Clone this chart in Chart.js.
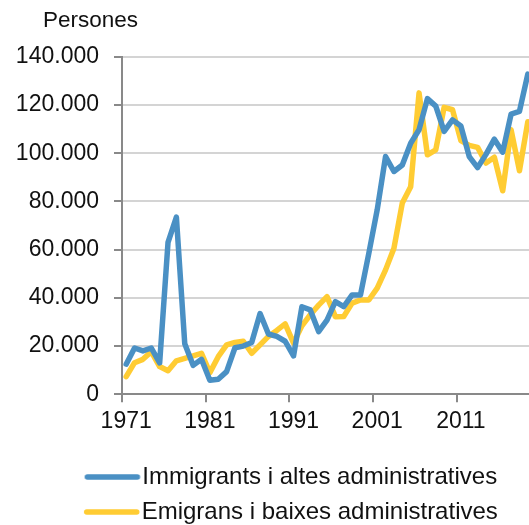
<!DOCTYPE html>
<html>
<head>
<meta charset="utf-8">
<script src="https://cdn.jsdelivr.net/npm/chart.js@4.4.1/dist/chart.umd.min.js"></script>
<style>
  html, body { margin: 0; padding: 0; background: #fff; overflow: hidden; }
  #wrap { width: 529px; height: 525px; overflow: hidden; }
  canvas { display: block; }
</style>
</head>
<body>
<div id="wrap"><canvas id="chart" width="534" height="534"></canvas></div>
<script>
// Years 1971 - 2019
const years = [];
for (let y = 1971; y <= 2019; y++) years.push(String(y));

// Immigrants i altes administratives (persones)
const immigrants = [
  12500, 19200, 18000, 19200, 13000, 63000, 73500, 21000, 12000, 14500,
  5800, 6200, 9400, 19300, 20000, 21500, 33500, 25000, 24000, 22000,
  15900, 36300, 35000, 26000, 30800, 38400, 36400, 41200, 41200, 58500,
  76500, 98600, 92400, 95100, 104100, 109700, 122600, 119500, 109000, 113800,
  111300, 98600, 94000, 99500, 105800, 100400, 116200, 117300, 132800
];

// Emigrans i baixes administratives (persones)
const emigrants = [
  7300, 13100, 14500, 17700, 11500, 9800, 13900, 14900, 15900, 17000,
  9000, 15600, 20500, 21500, 22000, 17000, 20500, 24000, 26500, 29200,
  21200, 28400, 33000, 37000, 40500, 32200, 32300, 37800, 39100, 39100,
  44000, 51600, 60600, 79300, 86100, 125000, 99300, 101400, 119000, 118000,
  105200, 103200, 102400, 95900, 98300, 84400, 109700, 92700, 113000
];

const unitLabel = 'Persones';

const BLUE = '#4a90c4';
const YELLOW = '#ffcc33';
const AXIS = '#898989';
const GRID = '#d4d4d4';
const FONT = 'Liberation Sans, Arial, sans-serif';

// legend swatch: a short thick line drawn into a small canvas
function swatch(color) {
  const c = document.createElement('canvas');
  c.width = 120; c.height = 8;
  const g = c.getContext('2d');
  g.strokeStyle = color;
  g.lineWidth = 5.5;
  g.lineCap = 'round';
  g.beginPath();
  g.moveTo(64.75, 4);
  g.lineTo(114.75, 4);
  g.stroke();
  return c;
}

// unit label above the y axis, left aligned like the original
const unitTitle = {
  id: 'unitTitle',
  afterDraw(chart) {
    const ctx = chart.ctx;
    ctx.save();
    ctx.font = '22.5px ' + FONT;
    ctx.fillStyle = '#111';
    ctx.textAlign = 'left';
    ctx.textBaseline = 'middle';
    ctx.fillText(unitLabel, 43, 21);
    ctx.restore();
  }
};

const chart = new Chart(document.getElementById('chart'), {
  type: 'line',
  data: {
    labels: years,
    datasets: [{
      label: 'Immigrants i altes administratives',
      data: immigrants,
      borderColor: BLUE,
      backgroundColor: BLUE,
      borderWidth: 5.5,
      borderJoinStyle: 'round',
      borderCapStyle: 'round',
      pointRadius: 0,
      pointStyle: swatch(BLUE),
      tension: 0
    }, {
      label: 'Emigrans i baixes administratives',
      data: emigrants,
      borderColor: YELLOW,
      backgroundColor: YELLOW,
      borderWidth: 5.5,
      borderJoinStyle: 'round',
      borderCapStyle: 'round',
      pointRadius: 0,
      pointStyle: swatch(YELLOW),
      tension: 0
    }]
  },
  plugins: [unitTitle],
  options: {
    responsive: false,
    animation: false,
    devicePixelRatio: 1,
    layout: { padding: { left: 0, right: 2, top: 56.7, bottom: 0 } },
    scales: {
      x: {
        offset: true,
        grid: {
          offset: true,
          drawOnChartArea: false,
          drawTicks: true,
          tickLength: 8,
          lineWidth: 2,
          tickColor: (ctx) => (ctx.index % 10 === 0 ? AXIS : 'rgba(0,0,0,0)'),
          color: 'rgba(0,0,0,0)'
        },
        border: { display: true, color: AXIS, width: 2 },
        ticks: {
          autoSkip: false,
          maxRotation: 0,
          minRotation: 0,
          padding: 5.9,
          color: '#111',
          font: { family: FONT, size: 23 },
          callback: (v, i) => (i % 10 === 0 ? years[i] : '')
        },
        afterFit: (scale) => { scale.height += 12.3; }
      },
      y: {
        min: 0,
        max: 140000,
        grid: {
          color: GRID,
          lineWidth: 2,
          tickLength: 8,
          tickColor: AXIS
        },
        border: { display: true, color: AXIS, width: 2 },
        ticks: {
          stepSize: 20000,
          padding: 15,
          color: '#111',
          font: { family: FONT, size: 23 },
          callback: (v) => (v === 0 ? '0' : (v / 1000) + '.000')
        },
        afterFit: (scale) => { scale.width = 122; }
      }
    },
    plugins: {
      title: { display: false },
      legend: {
        position: 'bottom',
        align: 'center',
        labels: {
          usePointStyle: true,
          pointStyleWidth: 95.5,
          padding: 11,
          color: '#111',
          font: { family: FONT, size: 24 }
        }
      },
      tooltip: { enabled: false }
    }
  }
});
</script>
</body>
</html>
